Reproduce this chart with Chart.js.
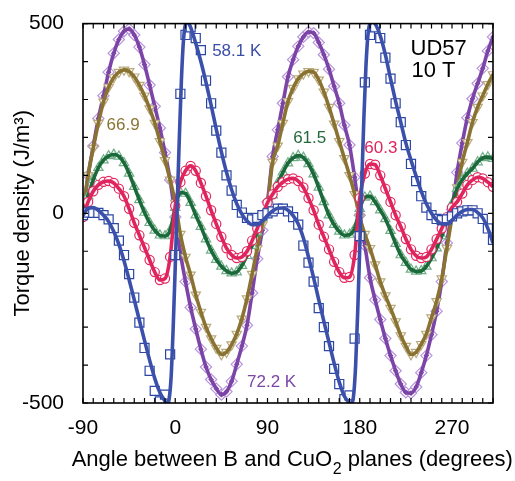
<!DOCTYPE html>
<html>
<head>
<meta charset="utf-8">
<script src="https://cdn.jsdelivr.net/npm/chart.js@4.4.1/dist/chart.umd.min.js"></script>
<style>
  body { margin: 0; background: #fff; }
  #box { width: 515px; height: 481px; position: relative; }
</style>
</head>
<body>
<div id="box"><canvas id="grafico"></canvas></div>
<script>
// angles of the data points (degrees)
const angles = [-90, -85, -80, -75, -70, -65, -60, -55, -50, -45, -40, -35, -30, -25, -20, -15, -10, -5,
  0, 5, 10, 15, 20, 25, 30, 35, 40, 45, 50, 55, 60, 65, 70, 75, 80, 85,
  90, 95, 100, 105, 110, 115, 120, 125, 130, 135, 140, 145, 150, 155, 160, 165, 170, 175,
  180, 185, 190, 195, 200, 205, 210, 215, 220, 225, 230, 235, 240, 245, 250, 255, 260, 265,
  270, 275, 280, 285, 290, 295, 300, 305, 310];

// torque density (J/m3) for each temperature
const t722 = [0, 100, 177, 250, 310, 372, 422, 458, 480, 486, 470, 438, 392, 338, 282, 225, 160, 88,
  -10, -105, -180, -248, -305, -358, -405, -438, -462, -478, -470, -443, -398, -350, -295, -210, -120, -45,
  30, 150, 220, 290, 360, 405, 440, 465, 478, 475, 450, 418, 380, 335, 290, 232, 180, 95,
  -5, -85, -170, -228, -280, -330, -375, -415, -450, -472, -474, -458, -420, -375, -320, -258, -180, -78,
  10, 108, 185, 252, 302, 342, 382, 428, 465];

const t669 = [5, 100, 172, 238, 294, 333, 358, 372, 378, 374, 360, 338, 310, 276, 238, 190, 140, 88,
  28, -55, -115, -162, -215, -260, -300, -330, -355, -372, -366, -346, -318, -278, -225, -160, -92, -30,
  25, 135, 178, 238, 295, 330, 355, 368, 374, 372, 352, 320, 280, 236, 190, 145, 100, 50,
  -10, -55, -92, -135, -180, -217, -250, -285, -322, -350, -372, -366, -345, -318, -275, -232, -172, -92,
  -10, 68, 135, 187, 240, 280, 310, 340, 366];

const t615 = [-3, 45, 88, 120, 140, 151, 155, 150, 133, 105, 70, 35, 2, -25, -45, -58, -60, -45,
  15, 55, 52, 28, -5, -35, -68, -98, -122, -140, -152, -158, -155, -138, -112, -85, -50, -12,
  15, 48, 80, 108, 132, 146, 152, 147, 130, 103, 68, 30, -5, -30, -48, -58, -56, -40,
  12, 42, 45, 30, 8, -15, -46, -80, -110, -130, -148, -153, -152, -140, -118, -92, -60, -20,
  25, 65, 88, 105, 118, 135, 146, 148, 144];

const t603 = [-10, 30, 58, 75, 83, 85, 80, 65, 45, 12, -25, -58, -90, -123, -155, -176, -172, -115,
  20, 82, 112, 125, 112, 80, 45, 8, -28, -62, -92, -110, -118, -115, -100, -72, -40, -5,
  28, 50, 70, 82, 90, 92, 85, 68, 40, 8, -30, -62, -95, -128, -155, -170, -168, -110,
  40, 105, 130, 128, 100, 65, 30, -5, -35, -68, -95, -112, -118, -115, -95, -68, -40, -10,
  15, 30, 52, 75, 88, 95, 92, 82, 70];

const t581 = [-5, 2, 1, 1, -5, -16, -39, -72, -110, -160, -222, -288, -355, -415, -468, -496, -478, -372,
  -110, 315, 470, 490, 462, 430, 350, 290, 218, 160, 100, 60, 22, 2, -12, -16, -12, -5,
  0, 5, 12, 12, 5, -10, -30, -85, -130, -180, -250, -300, -350, -410, -450, -490, -480, -330,
  -60, 345, 470, 490, 462, 410, 355, 290, 240, 180, 130, 85, 45, 15, -5, -15, -18, -16,
  -8, 0, 5, 8, 8, 0, -15, -40, -70];

// fitted curve for 58.1 K, denser near the jumps
const fit581Angles = [-90, -85, -80, -75, -70, -65, -60, -55, -50, -45, -40, -35, -30, -25, -20, -15, -10,
  -8, -6, -4, -2, 0, 2, 4, 6, 8, 10, 12, 15, 20, 25, 30, 35, 40, 45, 50, 55, 60, 65, 70, 75, 80, 85,
  90, 95, 100, 105, 110, 115, 120, 125, 130, 135, 140, 145, 150, 155, 160, 165, 170,
  172, 174, 176, 178, 180, 182, 184, 186, 188, 190, 193, 196, 200, 205, 210, 215, 220, 225, 230, 235,
  240, 245, 250, 255, 260, 265, 270, 275, 280, 285, 290, 295, 300, 305, 310];
const fit581 = [-5, 13, 15, 8, -5, -22, -48, -82, -125, -175, -228, -282, -335, -387, -435, -472, -495,
  -502, -490, -430, -300, -140, 30, 200, 350, 455, 498, 505, 490, 448, 400, 345, 285, 222, 162, 108, 62, 25, -2, -20, -30, -30, -20,
  -6, 6, 13, 14, 8, -6, -28, -65, -115, -170, -228, -285, -340, -395, -445, -482, -500,
  -503, -480, -400, -260, -90, 80, 250, 385, 470, 500, 505, 495, 468, 418, 355, 295, 240, 185, 140, 98,
  58, 25, 0, -18, -28, -28, -18, -5, 5, 10, 10, 2, -12, -40, -78];

const xLabels = [-90, 0, 90, 180, 270];
const yLabels = [-500, 0, 500];

const labels = ["58.1 K", "66.9", "61.5", "60.3", "72.2 K", "UD57", "10 T"];
const labelAt = [[36, 427], [-67, 233], [115, 197], [184.5, 170], [70, -445], [229.5, 432], [230.5, 374]];
const labelColor = ["#3a4ea6", "#8a7432", "#22693b", "#e0245e", "#7c46a8", "#000", "#000"];
const labelSize = [17, 17, 17, 17, 17, 22, 22];

// x axis title, the "2" is a subscript
const xTitle = ["Angle between B and CuO", "2", " planes (degrees)"];
const fonte = "'Liberation Sans', Arial, sans-serif";

function pts(xs, ys) {
  return xs.map((a, i) => ({ x: a, y: ys[i] }));
}

// thick line; dot > 0 puts small filled marks along it
function lineSet(xs, ys, color, order, dot, style, rot) {
  return {
    data: pts(xs, ys),
    showLine: true,
    borderColor: color,
    borderWidth: 3.6,
    pointRadius: dot || 0,
    pointStyle: style || "circle",
    pointRotation: rot || 0,
    pointBorderWidth: 0,
    pointBackgroundColor: color,
    cubicInterpolationMode: "monotone",
    clip: 0,
    order: order,
  };
}

function markSet(ys, color, style, radius, order, rot) {
  return {
    data: pts(angles, ys),
    showLine: false,
    pointStyle: style,
    pointRadius: radius,
    pointRotation: rot || 0,
    pointBorderWidth: 1.2,
    pointBorderColor: color,
    pointBackgroundColor: "rgba(255,255,255,0.9)",
    order: order,
  };
}

// box with inward ticks + text labels inside the plot + x title
const moldura = {
  id: "moldura",
  afterDatasetsDraw(chart) {
    const { ctx, chartArea: a } = chart;
    const x = chart.scales.x;
    const y = chart.scales.y;
    ctx.save();
    ctx.strokeStyle = "#000";
    ctx.lineWidth = 1.2;
    ctx.beginPath();
    for (let v = x.min; v <= x.max; v += 10) {
      const px = x.getPixelForValue(v);
      ctx.moveTo(px, a.bottom); ctx.lineTo(px, a.bottom - 5);
      ctx.moveTo(px, a.top); ctx.lineTo(px, a.top + 5);
    }
    for (let v = y.min; v <= y.max; v += 100) {
      const py = y.getPixelForValue(v);
      ctx.moveTo(a.left, py); ctx.lineTo(a.left + 5, py);
      ctx.moveTo(a.right, py); ctx.lineTo(a.right - 5, py);
    }
    ctx.stroke();
    ctx.lineWidth = 1.6;
    ctx.strokeRect(a.left, a.top, a.right - a.left, a.bottom - a.top);

    ctx.textBaseline = "middle";
    ctx.textAlign = "left";
    for (let i = 0; i < labels.length; i++) {
      ctx.font = labelSize[i] + "px " + fonte;
      ctx.fillStyle = labelColor[i];
      ctx.fillText(labels[i], x.getPixelForValue(labelAt[i][0]), y.getPixelForValue(labelAt[i][1]));
    }

    // x title, wider than the plot so drawn here (Chart.js would squeeze it)
    ctx.fillStyle = "#000";
    ctx.textBaseline = "alphabetic";
    const big = "22px " + fonte;
    const small = "16px " + fonte;
    ctx.font = big;
    const w0 = ctx.measureText(xTitle[0]).width;
    const w2 = ctx.measureText(xTitle[2]).width;
    ctx.font = small;
    const w1 = ctx.measureText(xTitle[1]).width;
    const meio = (a.left + a.right) / 2 + 4;
    const base = a.bottom + 63;
    let px = meio - (w0 + w1 + w2) / 2;
    ctx.font = big;
    ctx.fillText(xTitle[0], px, base);
    px += w0;
    ctx.font = small;
    ctx.fillText(xTitle[1], px + 0.5, base + 8);
    px += w1 + 0.5;
    ctx.font = big;
    ctx.fillText(xTitle[2], px, base);
    ctx.restore();
  },
};

const ctx = document.getElementById("grafico").getContext("2d");
new Chart(ctx, {
  type: "scatter",
  data: {
    datasets: [
      lineSet(fit581Angles, fit581, "#3b50aa", 0),
      markSet(t581, "#2c46a4", "rect", 6.4, 1),
      lineSet(angles, t603, "#e0245e", 2),
      markSet(t603, "#e3285f", "circle", 4.6, 3),
      lineSet(angles, t615, "#1b6a3a", 4, 2.8, "triangle", 180),
      markSet(t615, "#72ad8a", "triangle", 5.4, 5),
      lineSet(angles, t669, "#8a7332", 6, 2.6, "triangle"),
      markSet(t669, "#b9aa7c", "triangle", 5.4, 7, 180),
      lineSet(angles, t722, "#7b44a6", 8, 2.8, "rectRot"),
      markSet(t722, "#b894dc", "rectRot", 5.6, 9),
    ],
  },
  options: {
    responsive: true,
    maintainAspectRatio: false,
    animation: false,
    events: [],
    layout: { padding: { left: 0, right: 22, top: 14, bottom: 0 } },
    plugins: {
      legend: { display: false },
      tooltip: { enabled: false },
    },
    scales: {
      x: {
        type: "linear",
        min: -90,
        max: 310,
        grid: { display: false },
        border: { display: false },
        afterBuildTicks: (s) => { s.ticks = xLabels.map((v) => ({ value: v })); },
        afterFit: (s) => { s.height = 78; },
        ticks: {
          color: "#000",
          padding: 5,
          maxRotation: 0,
          font: { family: fonte, size: 21 },
        },
      },
      y: {
        type: "linear",
        min: -500,
        max: 500,
        grid: { display: false },
        border: { display: false },
        afterBuildTicks: (s) => { s.ticks = yLabels.map((v) => ({ value: v })); },
        afterFit: (s) => { s.width = 83; },
        ticks: {
          color: "#000",
          padding: 11,
          font: { family: fonte, size: 21 },
        },
        title: {
          display: true,
          text: "Torque density (J/m³)",
          color: "#000",
          padding: { top: 10, bottom: 0 },
          font: { family: fonte, size: 22 },
        },
      },
    },
  },
  plugins: [moldura],
});
</script>
</body>
</html>
